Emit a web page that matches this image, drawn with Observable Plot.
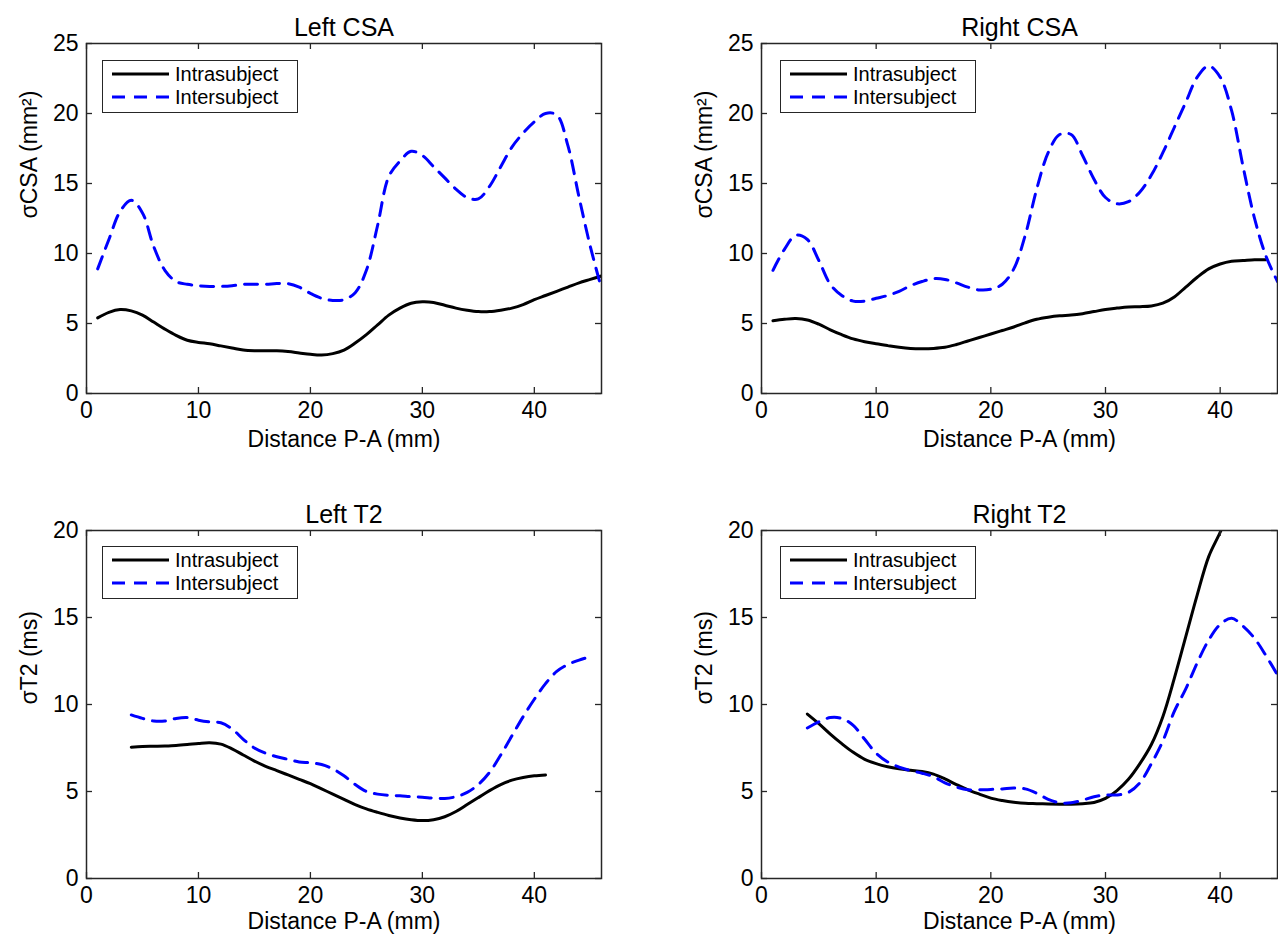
<!DOCTYPE html>
<html>
<head>
<meta charset="utf-8">
<script src="https://cdn.jsdelivr.net/npm/d3@7"></script>
<script src="https://cdn.jsdelivr.net/npm/@observablehq/plot@0.6"></script>
<style>
  body { margin: 0; background: #fff; }
  #chart { position: relative; width: 1278px; height: 936px; background: #fff; font-family: "Liberation Sans", Arial, sans-serif; }
  .panel { position: absolute; }
  .legend { position: absolute; background: #fff; border: 1.5px solid #262626; box-sizing: border-box; }
</style>
</head>
<body>
<div id="chart"></div>
<script>
// ---------- data ----------
const xTicks = [0, 10, 20, 30, 40];
const csaYTicks = [0, 5, 10, 15, 20, 25];
const t2YTicks = [0, 5, 10, 15, 20];
const seriesNames = ["Intrasubject", "Intersubject"];

// Left CSA
const leftCsaX = [1,2,3,4,5,6,7,8,9,10,11,12,13,14,15,16,17,18,19,20,21,22,23,24,25,26,27,28,29,30,31,32,33,34,35,36,37,38,39,40,41,42,43,44,45,46];
const leftCsaIntra = [5.4,5.8,6.0,5.9,5.6,5.1,4.6,4.15,3.8,3.65,3.55,3.4,3.25,3.1,3.05,3.05,3.05,3.0,2.9,2.8,2.75,2.85,3.1,3.6,4.2,4.9,5.6,6.1,6.45,6.55,6.5,6.3,6.1,5.95,5.85,5.85,5.95,6.1,6.35,6.7,7.0,7.3,7.6,7.9,8.15,8.4];
const leftCsaInter = [8.9,11.0,13.0,13.8,12.9,10.5,8.8,8.0,7.8,7.7,7.65,7.65,7.7,7.8,7.8,7.8,7.85,7.85,7.6,7.15,6.8,6.65,6.7,7.2,8.8,12.0,15.5,16.6,17.3,17.0,16.2,15.4,14.6,14.0,13.9,14.8,16.2,17.6,18.6,19.4,20.0,19.9,17.7,14.0,10.5,7.5];

// Right CSA
const rightCsaIntraX = [1,2,3,4,5,6,7,8,9,10,11,12,13,14,15,16,17,18,19,20,21,22,23,24,25,26,27,28,29,30,31,32,33,34,35,36,37,38,39,40,41,42,43,44];
const rightCsaIntra = [5.2,5.3,5.35,5.25,4.95,4.55,4.2,3.9,3.7,3.55,3.42,3.3,3.22,3.2,3.22,3.3,3.5,3.75,4.0,4.25,4.5,4.75,5.05,5.3,5.45,5.55,5.6,5.7,5.85,6.0,6.1,6.18,6.2,6.25,6.45,6.9,7.6,8.3,8.9,9.25,9.45,9.5,9.55,9.55];
const rightCsaInterX = [1,2,3,4,5,6,7,8,9,10,11,12,13,14,15,16,17,18,19,20,21,22,23,24,25,26,27,28,29,30,31,32,33,34,35,36,37,38,39,40,41,42,43,44,45];
const rightCsaInter = [8.8,10.3,11.3,11.0,9.5,7.8,7.0,6.6,6.6,6.8,7.0,7.3,7.7,8.0,8.2,8.15,7.9,7.6,7.4,7.45,7.8,8.9,11.3,14.6,17.2,18.5,18.5,17.0,15.3,14.0,13.55,13.7,14.4,15.6,17.2,19.0,20.8,22.6,23.4,22.6,20.2,16.2,12.5,9.8,8.0];

// Left T2
const leftT2IntraX = [4,5,6,7,8,9,10,11,12,13,14,15,16,17,18,19,20,21,22,23,24,25,26,27,28,29,30,31,32,33,34,35,36,37,38,39,40,41];
const leftT2Intra = [7.55,7.58,7.6,7.62,7.65,7.7,7.76,7.8,7.72,7.45,7.1,6.75,6.45,6.2,5.95,5.7,5.45,5.15,4.85,4.55,4.25,4.0,3.8,3.62,3.48,3.38,3.33,3.38,3.55,3.85,4.25,4.65,5.05,5.4,5.65,5.8,5.9,5.95];
const leftT2InterX = [4,5,6,7,8,9,10,11,12,13,14,15,16,17,18,19,20,21,22,23,24,25,26,27,28,29,30,31,32,33,34,35,36,37,38,39,40,41,42,43,44,45];
const leftT2Inter = [9.4,9.2,9.05,9.05,9.2,9.25,9.1,9.0,8.95,8.6,8.0,7.5,7.2,7.0,6.85,6.7,6.65,6.55,6.3,5.9,5.4,5.0,4.85,4.78,4.75,4.7,4.67,4.62,4.6,4.7,4.95,5.4,6.1,7.1,8.2,9.3,10.3,11.2,11.9,12.3,12.55,12.75];

// Right T2
const rightT2IntraX = [4,5,6,7,8,9,10,11,12,13,14,15,16,17,18,19,20,21,22,23,24,25,26,27,28,29,30,31,32,33,34,35,36,37,38,39,40,41];
const rightT2Intra = [9.45,8.9,8.3,7.75,7.25,6.85,6.6,6.42,6.3,6.22,6.15,6.0,5.72,5.4,5.1,4.85,4.62,4.48,4.38,4.32,4.3,4.28,4.27,4.27,4.3,4.37,4.6,5.05,5.7,6.6,7.7,9.3,11.5,13.9,16.3,18.5,19.9,21.5];
const rightT2InterX = [4,5,6,7,8,9,10,11,12,13,14,15,16,17,18,19,20,21,22,23,24,25,26,27,28,29,30,31,32,33,34,35,36,37,38,39,40,41,42,43,44,45];
const rightT2Inter = [8.65,9.0,9.25,9.2,8.8,8.0,7.2,6.7,6.4,6.2,6.05,5.85,5.5,5.25,5.1,5.1,5.12,5.15,5.2,5.15,4.9,4.55,4.35,4.35,4.5,4.7,4.8,4.8,4.95,5.5,6.6,7.9,9.6,10.9,12.4,13.7,14.6,14.95,14.5,13.8,12.8,11.7];

// ---------- drawing ----------
const FONT = '"Liberation Sans", Arial, Helvetica, sans-serif';
const toRows = (xs, ys) => xs.map((x, i) => ({x, y: ys[i]}));

function panel(cfg) {
  const W = cfg.width - cfg.ml - cfg.mr;
  const H = cfg.height - cfg.mt - cfg.mb;
  return Plot.plot({
    width: cfg.width, height: cfg.height,
    marginLeft: cfg.ml, marginRight: cfg.mr, marginTop: cfg.mt, marginBottom: cfg.mb,
    style: {fontFamily: FONT, fontSize: "23px", color: "#000", background: "transparent", overflow: "visible"},
    x: {domain: cfg.xDomain},
    y: {domain: cfg.yDomain},
    marks: [
      Plot.lineY(toRows(cfg.intraX, cfg.intra), {x: "x", y: "y", stroke: "#000", strokeWidth: 3, curve: "catmull-rom", clip: true}),
      Plot.lineY(toRows(cfg.interX, cfg.inter), {x: "x", y: "y", stroke: "#0000ff", strokeWidth: 3, strokeDasharray: "13,9", curve: "catmull-rom", clip: true}),
      Plot.frame({stroke: "#262626", strokeWidth: 1.5}),
      Plot.tickX(xTicks, {x: d => d, stroke: "#262626", strokeWidth: 1.3, insetTop: H - 6}),
      Plot.tickX(xTicks, {x: d => d, stroke: "#262626", strokeWidth: 1.3, insetBottom: H - 6}),
      Plot.tickY(cfg.yTicks, {y: d => d, stroke: "#262626", strokeWidth: 1.3, insetRight: W - 6}),
      Plot.tickY(cfg.yTicks, {y: d => d, stroke: "#262626", strokeWidth: 1.3, insetLeft: W - 6}),
      Plot.axisX({ticks: xTicks, tickSize: 0, tickPadding: 8, label: null, fontSize: 23}),
      Plot.axisY({ticks: cfg.yTicks, tickSize: 0, tickPadding: 8, label: null, fontSize: 23}),
      Plot.text([cfg.title], {frameAnchor: "top", lineAnchor: "bottom", dy: -8, fontSize: 25, fill: "#000"}),
      Plot.text(["Distance P-A (mm)"], {frameAnchor: "bottom", lineAnchor: "middle", dy: cfg.xLabelDy, fontSize: 23, fill: "#000"}),
      Plot.text([cfg.yLabel], {frameAnchor: "left", rotate: -90, dx: -57, fontSize: 23, fill: "#000"})
    ]
  });
}

function legend(left, top) {
  const div = document.createElement("div");
  div.className = "legend";
  Object.assign(div.style, {left: left + "px", top: top + "px", width: "196px", height: "53px"});
  const ns = "http://www.w3.org/2000/svg";
  const svg = document.createElementNS(ns, "svg");
  svg.setAttribute("width", 193); svg.setAttribute("height", 50);
  const styles = [{stroke: "#000", dash: null}, {stroke: "#0000ff", dash: "13,9"}];
  seriesNames.forEach((name, i) => {
    const cy = 13 + i * 23;
    const line = document.createElementNS(ns, "line");
    line.setAttribute("x1", 9); line.setAttribute("x2", 66);
    line.setAttribute("y1", cy); line.setAttribute("y2", cy);
    line.setAttribute("stroke", styles[i].stroke); line.setAttribute("stroke-width", 3);
    if (styles[i].dash) line.setAttribute("stroke-dasharray", styles[i].dash);
    svg.appendChild(line);
    const t = document.createElementNS(ns, "text");
    t.setAttribute("x", 72); t.setAttribute("y", cy);
    t.setAttribute("dy", "0.35em");
    t.setAttribute("font-family", FONT); t.setAttribute("font-size", 20);
    t.textContent = name;
    svg.appendChild(t);
  });
  div.appendChild(svg);
  return div;
}

const chart = document.getElementById("chart");
const panels = [
  {left: 0, top: 0, title: "Left CSA", yLabel: "σCSA (mm²)", xDomain: [0, 46], yDomain: [0, 25], yTicks: csaYTicks,
   intraX: leftCsaX, intra: leftCsaIntra, interX: leftCsaX, inter: leftCsaInter,
   width: 640, height: 468, ml: 86, mr: 39, mt: 43, mb: 75, xLabelDy: 46, legend: [102, 60]},
  {left: 638, top: 0, title: "Right CSA", yLabel: "σCSA (mm²)", xDomain: [0, 45], yDomain: [0, 25], yTicks: csaYTicks,
   intraX: rightCsaIntraX, intra: rightCsaIntra, interX: rightCsaInterX, inter: rightCsaInter,
   width: 640, height: 468, ml: 123, mr: 1, mt: 43, mb: 75, xLabelDy: 46, legend: [780, 60]},
  {left: 0, top: 468, title: "Left T2", yLabel: "σT2 (ms)", xDomain: [0, 46], yDomain: [0, 20], yTicks: t2YTicks,
   intraX: leftT2IntraX, intra: leftT2Intra, interX: leftT2InterX, inter: leftT2Inter,
   width: 640, height: 468, ml: 86, mr: 39, mt: 62, mb: 58, xLabelDy: 43, legend: [102, 546]},
  {left: 638, top: 468, title: "Right T2", yLabel: "σT2 (ms)", xDomain: [0, 45], yDomain: [0, 20], yTicks: t2YTicks,
   intraX: rightT2IntraX, intra: rightT2Intra, interX: rightT2InterX, inter: rightT2Inter,
   width: 640, height: 468, ml: 123, mr: 1, mt: 62, mb: 58, xLabelDy: 43, legend: [780, 546]}
];
for (const p of panels) {
  const svg = panel(p);
  const wrap = document.createElement("div");
  wrap.className = "panel";
  wrap.style.left = p.left + "px";
  wrap.style.top = p.top + "px";
  wrap.appendChild(svg);
  chart.appendChild(wrap);
  chart.appendChild(legend(p.legend[0], p.legend[1]));
}
</script>
</body>
</html>
